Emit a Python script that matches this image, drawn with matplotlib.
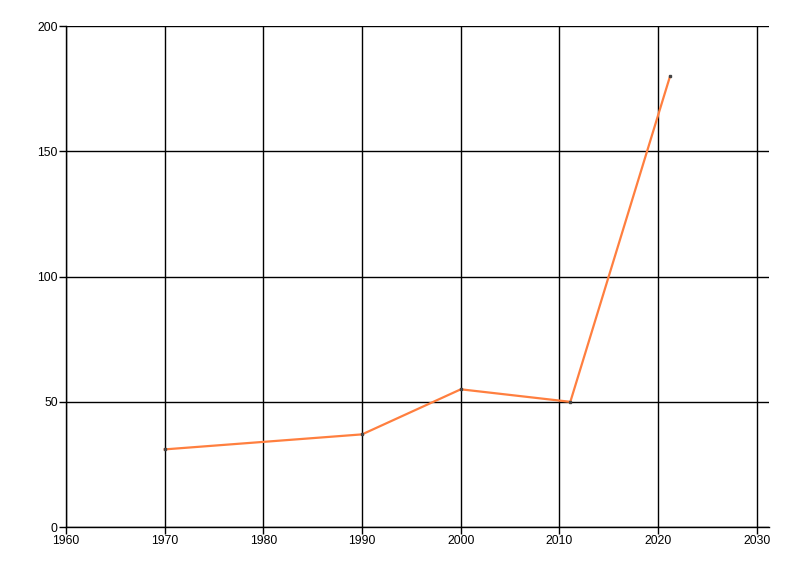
import matplotlib
matplotlib.use("Agg")
import matplotlib.pyplot as plt

years = [1970, 1990, 2000, 2011.1, 2021.2]
values = [31, 37, 55, 50, 180]
xticks = [1960, 1970, 1980, 1990, 2000, 2010, 2020, 2030]
yticks = [0, 50, 100, 150, 200]

plt.rcParams['font.family'] = ['Liberation Sans', 'DejaVu Sans']

fig = plt.figure(figsize=(8, 5.76), dpi=100)
ax = fig.add_axes([66 / 800, 1 - 527 / 576, (768.7 - 66) / 800, (527 - 26.3) / 576])

ax.plot(years, values, color='#ff7f3f', linewidth=1.6, zorder=3,
        marker='s', markersize=1.5, markerfacecolor='#444444', markeredgecolor='#444444')

ax.set_xlim(1960, 2031.2)
ax.set_ylim(0, 200)
ax.set_xticks(xticks)
ax.set_yticks(yticks)
ax.grid(True, color='black', linewidth=1.0)
for s in ['top', 'right']:
    ax.spines[s].set_visible(False)
for s in ['left', 'bottom']:
    ax.spines[s].set_linewidth(1.0)
ax.tick_params(direction='out', length=5, width=1.0, labelsize=8.7, pad=1)

fig.savefig('out.png', dpi=100)
